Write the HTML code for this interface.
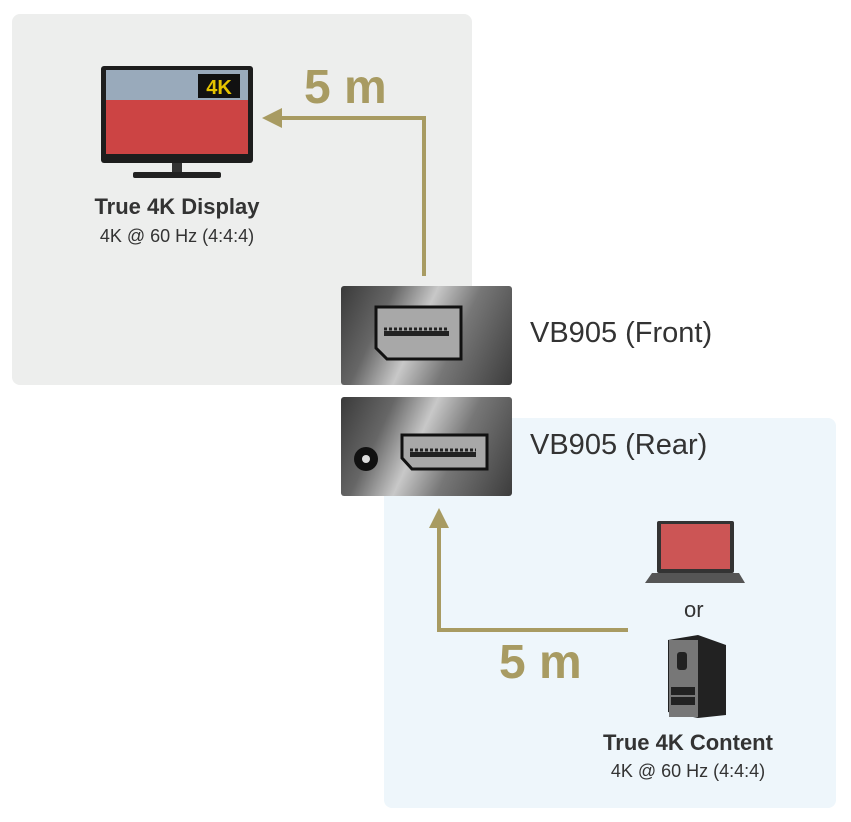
<!DOCTYPE html><html><head><style>
body{margin:0;width:851px;height:822px;background:#fff;position:relative;font-family:"Liberation Sans",sans-serif;overflow:hidden}
.a{position:absolute}
.box{position:absolute;left:341px;width:171px;height:99px;border-radius:3px;background:linear-gradient(115deg,#3a3a3a 0%,#666 25%,#c8c8c8 45%,#777 65%,#3c3c3c 100%)}
.t{position:absolute;color:#333;white-space:nowrap}
</style></head><body>
<div class="a" style="left:12px;top:14px;width:460px;height:371px;background:#edeeed;border-radius:8px"></div>
<div class="a" style="left:384px;top:418px;width:452px;height:390px;background:#eef6fb;border-radius:8px"></div>
<svg class="a" style="left:0;top:0" width="851" height="822">
<g fill="none" stroke="#a89b62" stroke-width="4">
<polyline points="424,276 424,118 280,118"/>
<polyline points="628,630 439,630 439,526"/>
</g>
<polygon points="262,118 282,108 282,128" fill="#a89b62"/>
<polygon points="439,508 429,528 449,528" fill="#a89b62"/>
<rect x="101" y="66" width="152" height="97" rx="3" fill="#1d1d1d"/>
<rect x="106" y="70" width="142" height="84" fill="#c44"/>
<rect x="106" y="70" width="142" height="30" fill="#9ab"/>
<rect x="198" y="74" width="42" height="24" fill="#111"/>
<text x="219" y="94" font-size="20" font-weight="bold" fill="#e5c300" text-anchor="middle" font-family="Liberation Sans">4K</text>
<rect x="172" y="163" width="10" height="10" fill="#333"/>
<rect x="133" y="172" width="88" height="6" rx="2" fill="#222"/>
<rect x="657" y="521" width="77" height="52" rx="2" fill="#333"/>
<rect x="661" y="524" width="69" height="45" fill="#c55"/>
<polygon points="652,573 739,573 745,583 645,583" fill="#555"/>
<polygon points="668,640 698,635 726,645 726,715 698,718 668,712" fill="#222"/>
<rect x="669" y="640" width="29" height="77" fill="#777"/>
<rect x="677" y="652" width="10" height="18" rx="3" fill="#222"/>
<rect x="671" y="687" width="24" height="8" fill="#222"/>
<rect x="671" y="697" width="24" height="8" fill="#222"/>
</svg>
<div class="box" style="top:286px"></div>
<div class="box" style="top:397px"></div>
<svg class="a" style="left:341px;top:286px" width="171" height="210">
<g fill="#a8a8a8" stroke="#111" stroke-width="3">
<polygon points="35,21 120,21 120,73 46,73 35,62"/>
<polygon points="61,149 146,149 146,183 71,183 61,172"/>
</g>
<g stroke="#222" stroke-width="3" stroke-dasharray="3 2">
<line x1="43" y1="43" x2="108" y2="43"/><line x1="69" y1="164" x2="135" y2="164"/>
</g>
<rect x="43" y="45" width="65" height="5" fill="#222"/>
<rect x="69" y="166" width="66" height="5" fill="#222"/>
<circle cx="25" cy="173" r="12" fill="#111"/><circle cx="25" cy="173" r="4" fill="#ddd"/>
</svg>
<div class="t" style="left:304px;top:60px;font-size:48px;font-weight:bold;color:#a89b62">5 m</div>
<div class="t" style="left:499px;top:635px;font-size:48px;font-weight:bold;color:#a89b62">5 m</div>
<div class="t" style="left:530px;top:317px;font-size:29px">VB905 (Front)</div>
<div class="t" style="left:530px;top:429px;font-size:29px">VB905 (Rear)</div>
<div class="t" style="left:57px;top:194px;width:240px;text-align:center;font-size:22px;font-weight:bold">True 4K Display</div>
<div class="t" style="left:57px;top:226px;width:240px;text-align:center;font-size:18px">4K @ 60 Hz (4:4:4)</div>
<div class="t" style="left:568px;top:730px;width:240px;text-align:center;font-size:22px;font-weight:bold">True 4K Content</div>
<div class="t" style="left:568px;top:761px;width:240px;text-align:center;font-size:18px">4K @ 60 Hz (4:4:4)</div>
<div class="t" style="left:684px;top:597px;font-size:22px">or</div>
</body></html>
